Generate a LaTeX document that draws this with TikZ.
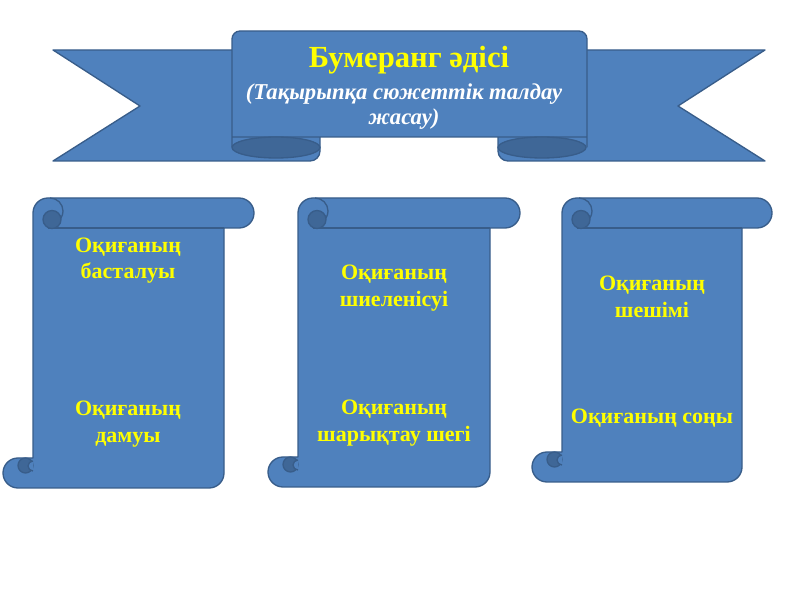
\documentclass[tikz,border=0pt]{standalone}
\usepackage{fontspec}
\setmainfont{Liberation Serif}
\definecolor{ribfill}{HTML}{4F81BD}
\definecolor{ribedge}{HTML}{385D8A}
\definecolor{ribdark}{HTML}{3F6797}
\definecolor{txtyel}{HTML}{FFFF00}

\begin{document}
\begin{tikzpicture}[x=0.75pt, y=0.75pt,
  rib/.style={fill=ribfill, draw=ribedge, line width=1pt, line join=round},
  ribd/.style={fill=ribdark, draw=ribedge, line width=1pt},
  ribline/.style={draw=ribedge, line width=1pt},
  ttl/.style={text=txtyel, font=\fontsize{23}{27}\selectfont\bfseries},
  sub/.style={text=white, align=center, font=\fontsize{17}{18.75}\selectfont\bfseries\itshape},
  lab/.style={text=txtyel, align=center, font=\fontsize{16.5}{20}\selectfont\bfseries},
]
\useasboundingbox (0,0) rectangle (800,600);
% ================= BANNER: two tails, folds, centre panel ==================
\draw[rib] (53,550) -- (320,550) -- (320,449) arc[start angle=0, end angle=-90, radius=10]
  -- (53,439) -- (140,494) -- cycle;                                  % left tail
\draw[rib] (765,550) -- (498,550) -- (498,449) arc[start angle=180, end angle=270, radius=10]
  -- (765,439) -- (678,494) -- cycle;                                 % right tail
\draw[rib] (232,453) -- (232,561) arc[start angle=180, end angle=90, radius=8]
  -- (579,569) arc[start angle=90, end angle=0, radius=8] -- (587,453) -- (587,463)
  -- (232,463);                                                       % panel
\draw[ribd] (276,452.5) ellipse[x radius=44, y radius=10.5];          % left fold
\draw[ribd] (542,452.5) ellipse[x radius=44, y radius=10.5];          % right fold
\node[ttl] (title) at (409,540) {Бумеранг әдісі};
\node[sub] (subtitle) at (404,493) {(Тақырыпқа сюжеттік талдау\\жасау)};
% ================= SCROLLS (left x, right x, bottom y) =====================
\foreach \sl/\sr/\sb in {3/254/112, 268/520/113, 532/772/118} {
  \draw[rib] (\sl+15,\sb) arc[start angle=270, end angle=90, radius=15] -- (\sl+30,\sb+30)
    -- (\sl+30,387) arc[start angle=180, end angle=90, radius=15]
    -- (\sr-15,402) arc[start angle=90, end angle=-90, radius=15]
    -- (\sr-30,372) -- (\sr-30,\sb+15) arc[start angle=0, end angle=-90, radius=15] -- cycle;
  \draw[ribline] (\sl+45,372) -- (\sr-30,372);                      % roll edge
  \draw[ribline] (\sl+47,402) arc[start angle=90, end angle=-60, radius=13];
  \draw[ribd] (\sl+49,380.5) circle[radius=9];                       % top curl
  \draw[ribd] (\sl+22.5,\sb+22.5) circle[radius=7.5];                % bottom curl
  \draw[rib] (\sl+30,\sb+27) arc[start angle=90, end angle=270, radius=5];
}
\node[lab] (begin) at (128,339.5) {Оқиғаның\\басталуы};
\node[lab] (develop) at (128,176) {Оқиғаның\\дамуы};
\node[lab] (tension) at (394,312) {Оқиғаның\\шиеленісуі};
\node[lab] (climax) at (394,177) {Оқиғаның\\шарықтау шегі};
\node[lab] (outcome) at (652,303.5) {Оқиғаның\\шешімі};
\node[lab] (ending) at (652,182) {Оқиғаның соңы};
\end{tikzpicture}
\end{document}
